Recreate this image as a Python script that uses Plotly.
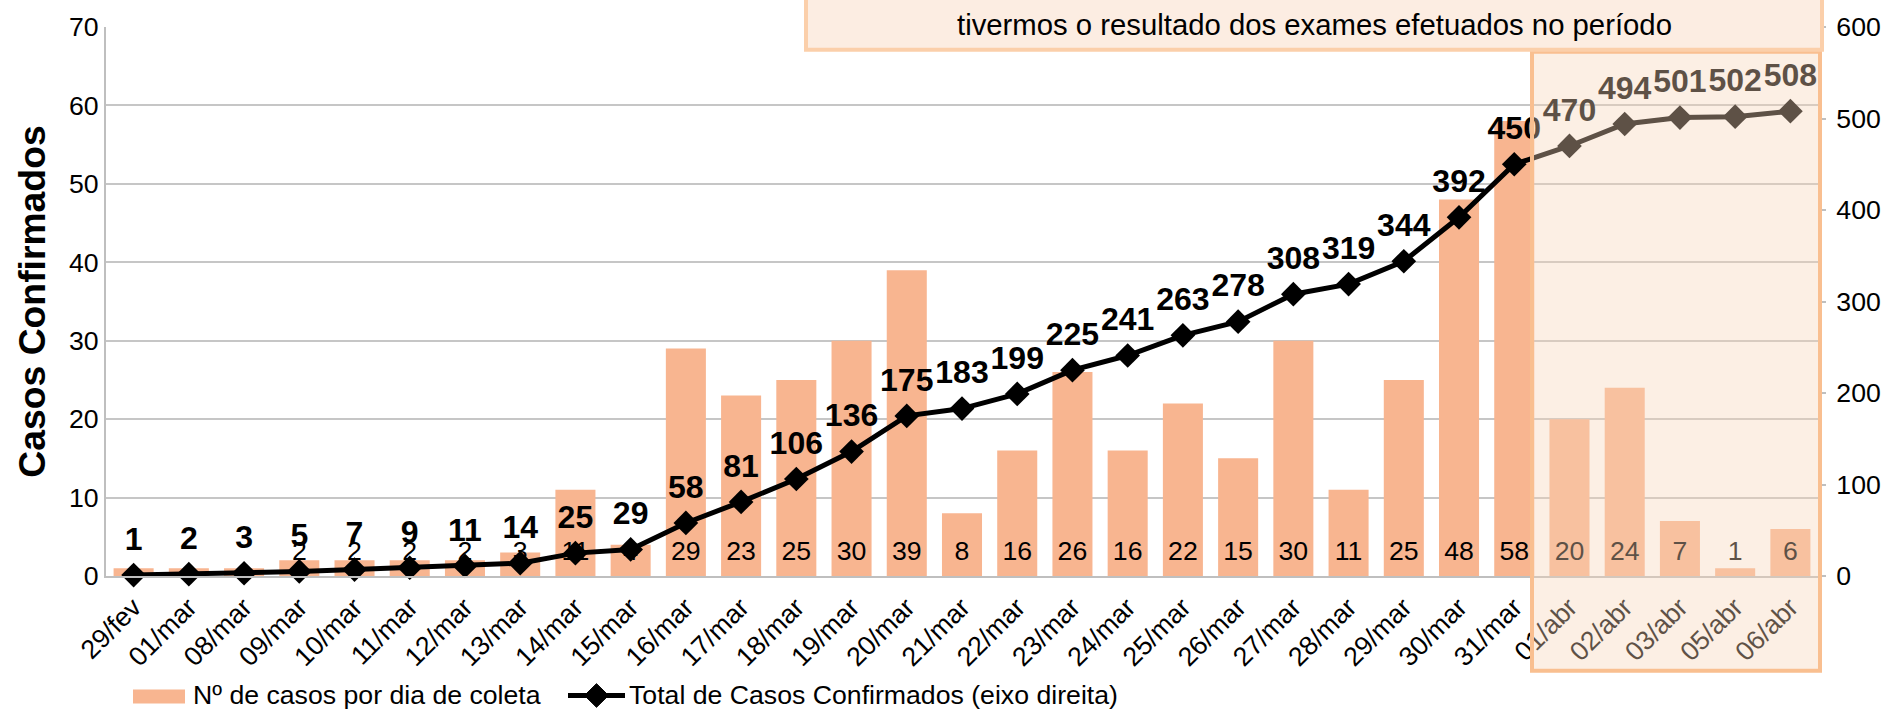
import plotly.graph_objects as go

# ---------------- data ----------------
categories = ['29/fev', '01/mar', '08/mar', '09/mar', '10/mar', '11/mar', '12/mar', '13/mar',
              '14/mar', '15/mar', '16/mar', '17/mar', '18/mar', '19/mar', '20/mar', '21/mar',
              '22/mar', '23/mar', '24/mar', '25/mar', '26/mar', '27/mar', '28/mar', '29/mar',
              '30/mar', '31/mar', '01/abr', '02/abr', '03/abr', '05/abr', '06/abr']
daily_cases = [1, 1, 1, 2, 2, 2, 2, 3, 11, 4, 29, 23, 25, 30, 39, 8, 16, 26, 16, 22, 15, 30, 11,
               25, 48, 58, 20, 24, 7, 1, 6]
total_cases = [1, 2, 3, 5, 7, 9, 11, 14, 25, 29, 58, 81, 106, 136, 175, 183, 199, 225, 241, 263,
               278, 308, 319, 344, 392, 450, 470, 494, 501, 502, 508]
left_ticks = [0, 10, 20, 30, 40, 50, 60, 70]
right_ticks = [0, 100, 200, 300, 400, 500, 600]
hidden_bar_labels = ['29/fev', '01/mar', '08/mar']

bar_name = 'Nº de casos por dia de coleta'
line_name = 'Total de Casos Confirmados (eixo direita)'
y_title = 'Casos Confirmados'
box_text = 'tivermos o resultado dos exames efetuados no período'

# ---------------- style ----------------
FONT = 'Liberation Sans, Arial, Helvetica, sans-serif'
BAR_COLOR = '#F8B590'
GRID = '#C6C6C6'
AXIS = '#BFBFBF'
FS = 26.67  # 20 pt
W, H = 1893, 711
ML, MR, MT, MB = 106, 75, 20, 135
PW, PH = W - ML - MR, H - MT - MB


def px(xp):
    return (xp - ML) / PW


def py(yp):
    return (MT + PH - yp) / PH


bar_text = ['' if c in hidden_bar_labels else str(v) for c, v in zip(categories, daily_cases)]

fig = go.Figure()
fig.add_trace(go.Bar(
    x=categories, y=daily_cases, name=bar_name, yaxis='y',
    marker=dict(color=BAR_COLOR, line=dict(width=0)), hoverinfo='skip'))
fig.add_trace(go.Scatter(
    x=categories, y=[0] * len(categories), yaxis='y', mode='markers+text', text=bar_text,
    textposition='top center', textfont=dict(family=FONT, size=FS, color='black'),
    marker=dict(size=14, opacity=0), hoverinfo='skip', cliponaxis=False))
fig.add_trace(go.Scatter(
    x=categories, y=total_cases, name=line_name, yaxis='y2', mode='lines+markers',
    line=dict(color='black', width=5),
    marker=dict(symbol='diamond', size=19, color='black'), cliponaxis=False))
fig.add_trace(go.Scatter(
    x=categories, y=total_cases, yaxis='y2', mode='markers+text',
    text=[str(v) for v in total_cases], textposition='top center',
    textfont=dict(family=FONT, size=32, color='black', weight='bold'),
    marker=dict(size=26, opacity=0), hoverinfo='skip', cliponaxis=False))

shapes = [
    # shaded period (semi-transparent, above traces)
    dict(type='rect', xref='paper', yref='paper', x0=px(1532), x1=px(1820), y0=py(672), y1=py(45),
         fillcolor='rgba(247,213,184,0.38)', line=dict(color='#F9BF90', width=4), layer='above'),
    # text box at top
    dict(type='rect', xref='paper', yref='paper', x0=px(806), x1=px(1822), y0=py(43), y1=py(-40),
         fillcolor='#FCEDE2', line=dict(color='#FBCFAA', width=4), layer='above'),
    # legend: bar swatch
    dict(type='rect', xref='paper', yref='paper', x0=px(133), x1=px(185), y0=py(705), y1=py(691),
         fillcolor=BAR_COLOR, line=dict(width=0), layer='above'),
    # legend: line
    dict(type='line', xref='paper', yref='paper', x0=px(568), x1=px(625), y0=py(697), y1=py(697),
         line=dict(color='black', width=5), layer='above'),
    # legend: diamond
    dict(type='path', xref='paper', yref='paper',
         path='M {a},{b} L {c},{d} L {a},{e} L {f},{d} Z'.format(
             a=px(596.5), b=py(685), c=px(608.5), d=py(697), e=py(709), f=px(584.5)),
         fillcolor='black', line=dict(color='black', width=1), layer='above'),
]

annotations = [
    dict(text=box_text, xref='paper', yref='paper', x=px(1314), y=py(17), xanchor='center',
         yanchor='middle', showarrow=False, font=dict(family=FONT, size=29.3, color='black')),
    dict(text=bar_name, xref='paper', yref='paper', x=px(191), y=py(697), xanchor='left',
         yanchor='middle', showarrow=False, font=dict(family=FONT, size=FS, color='black')),
    dict(text=line_name, xref='paper', yref='paper', x=px(627), y=py(697), xanchor='left',
         yanchor='middle', showarrow=False, font=dict(family=FONT, size=FS, color='black')),
]

fig.update_layout(
    width=W, height=H, margin=dict(l=ML, r=MR, t=MT, b=MB, pad=0),
    plot_bgcolor='white', paper_bgcolor='white', showlegend=False, bargap=0.275,
    font=dict(family=FONT, size=FS, color='black'),
    xaxis=dict(type='category', tickangle=-45, showgrid=False, showline=True, linecolor=AXIS,
               linewidth=2, ticks='', tickfont=dict(family=FONT, size=FS, color='black'),
               ticklabelstandoff=3, range=[-0.5, len(categories) - 0.5]),
    yaxis=dict(range=[0, 70], tickvals=left_ticks, showgrid=True, gridcolor=GRID, gridwidth=2,
               showline=True, linecolor=AXIS, linewidth=2, zeroline=False, ticks='',
               tickfont=dict(family=FONT, size=FS, color='black'),
               title=dict(text='<b>' + y_title + '</b>', font=dict(family=FONT, size=37.3, color='black'),
                          standoff=12)),
    yaxis2=dict(overlaying='y', side='right', range=[0, 600], tickvals=right_ticks, showgrid=False,
                ticks='outside', ticklen=7, tickwidth=2, tickcolor=AXIS, zeroline=False,
                showline=False, tickfont=dict(family=FONT, size=FS, color='black'),
                ticklabelstandoff=5),
    shapes=shapes, annotations=annotations,
)

fig.write_html('out.html', config={'displayModeBar': False},
               post_script="document.body.style.margin='0';")
